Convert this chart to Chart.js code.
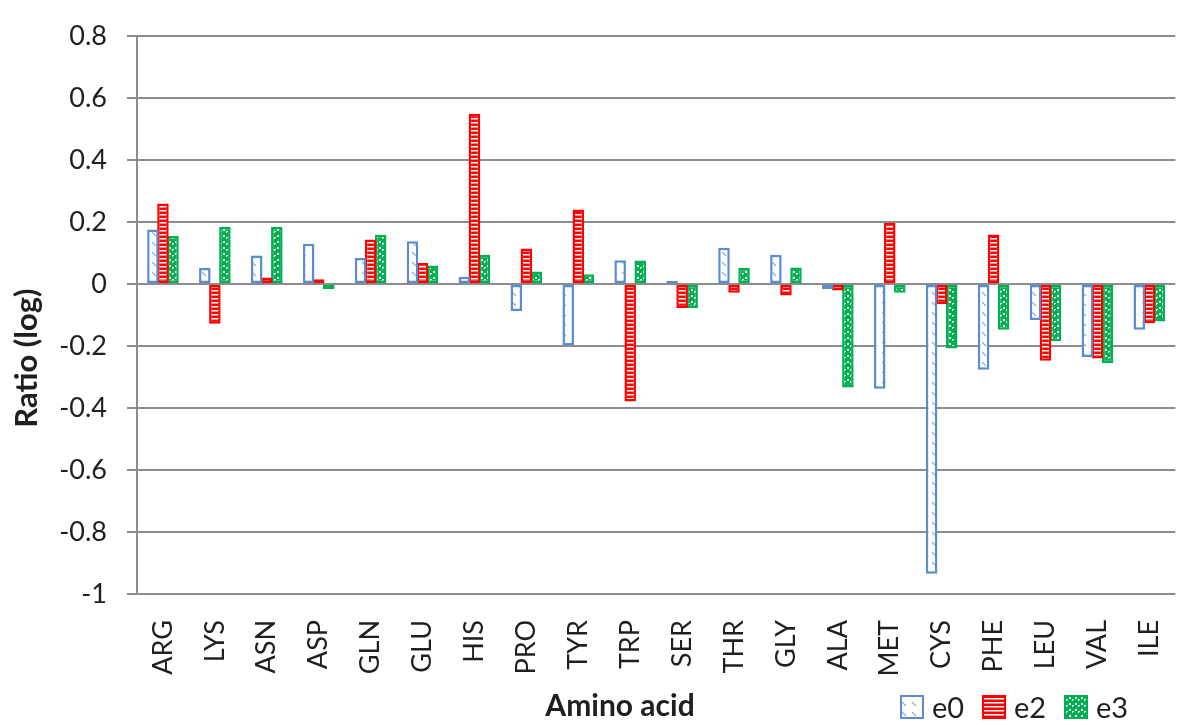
<!DOCTYPE html>
<html>
<head>
<meta charset="utf-8">
<script src="https://cdn.jsdelivr.net/npm/chart.js@4/dist/chart.umd.min.js"></script>
<style>
  html, body { margin: 0; padding: 0; background: #fff; }
  #wrap { width: 1200px; height: 727px; position: relative; }
</style>
</head>
<body>
<div id="wrap"><canvas id="chart" width="1200" height="727"></canvas></div>
<script>
// --- dados ---
const aminoAcids = ['ARG','LYS','ASN','ASP','GLN','GLU','HIS','PRO','TYR','TRP','SER','THR','GLY','ALA','MET','CYS','PHE','LEU','VAL','ILE'];
const e0 = [0.176, 0.052, 0.092, 0.13, 0.084, 0.138, 0.024, -0.087, -0.198, 0.077, 0.01, 0.117, 0.095, -0.016, -0.338, -0.935, -0.276, -0.116, -0.235, -0.147];
const e2 = [0.26, -0.128, 0.021, 0.016, 0.144, 0.068, 0.55, 0.115, 0.241, -0.379, -0.077, -0.028, -0.037, -0.021, 0.197, -0.065, 0.16, -0.247, -0.24, -0.126];
const e3 = [0.155, 0.184, 0.184, -0.016, 0.159, 0.06, 0.095, 0.041, 0.032, 0.076, -0.077, 0.052, 0.054, -0.334, -0.028, -0.208, -0.147, -0.184, -0.255, -0.121];
const seriesNames = ['e0', 'e2', 'e3'];
const yMin = -1, yMax = 0.8, yStep = 0.2;

const FONT = "Lato, 'Open Sans', 'Noto Sans', sans-serif";
const GRID = '#8c8c8c';
const TEXT = '#1f1f1f';

// texturas das barras (padrão do Excel)
const makePattern = (w, h, draw) => {
    const c = document.createElement('canvas');
    c.width = w; c.height = h;
    const g = c.getContext('2d');
    draw(g);
    return g.createPattern(c, 'repeat');
};

const patE0 = makePattern(10, 10, g => {
    g.fillStyle = '#fff'; g.fillRect(0, 0, 10, 10);
    g.strokeStyle = '#8fb0dc'; g.lineWidth = 1.2;
    g.beginPath(); g.moveTo(2, 2); g.lineTo(6, 6); g.stroke();
});
const patE2 = makePattern(4, 4, g => {
    g.fillStyle = '#ff0000'; g.fillRect(0, 0, 4, 4);
    g.fillStyle = '#fff'; g.fillRect(0, 2, 4, 1.5);
});
const patE3 = makePattern(6, 6, g => {
    g.fillStyle = '#00b050'; g.fillRect(0, 0, 6, 6);
    g.fillStyle = '#fff';
    g.fillRect(1, 1, 2, 2);
    g.fillRect(4, 3, 2, 1);
    g.fillRect(4, 4, 1, 1);
});

const styles = [
    { bg: patE0, border: '#5b8bd0', bw: 2.5 },
    { bg: patE2, border: '#ff0000', bw: 2.5 },
    { bg: patE3, border: '#00b050', bw: 2.5 }
];

// títulos e legenda desenhados à mão
const extras = {
    id: 'extras',
    afterDraw: (chart) => {
        const ctx = chart.ctx;
        ctx.save();
        ctx.fillStyle = TEXT;

        // título eixo Y
        ctx.font = `bold 31px ${FONT}`;
        ctx.textAlign = 'center';
        ctx.textBaseline = 'middle';
        ctx.translate(27, 358);
        ctx.rotate(-Math.PI / 2);
        ctx.fillText('Ratio (log)', 0, 0);
        ctx.setTransform(1, 0, 0, 1, 0, 0);

        // título eixo X
        ctx.font = `bold 30px ${FONT}`;
        ctx.textAlign = 'center';
        ctx.textBaseline = 'alphabetic';
        ctx.fillText('Amino acid', 620, 716);

        // legenda
        const xs = [900, 982, 1064];
        ctx.font = `29px ${FONT}`;
        ctx.textAlign = 'left';
        seriesNames.forEach((n, i) => {
            const s = styles[i];
            ctx.fillStyle = s.bg;
            ctx.fillRect(xs[i], 695, 24, 24);
            ctx.strokeStyle = s.border;
            ctx.lineWidth = 2;
            ctx.strokeRect(xs[i] + 1, 696, 22, 22);
            ctx.fillStyle = TEXT;
            ctx.fillText(n, xs[i] + 32, 718);
        });
        ctx.restore();
    }
};

const datasets = [e0, e2, e3].map((vals, i) => ({
    label: seriesNames[i],
    data: vals,
    backgroundColor: styles[i].bg,
    borderColor: styles[i].border,
    borderWidth: styles[i].bw,
    borderSkipped: false,
    categoryPercentage: 0.58,
    barPercentage: 1.15
}));

new Chart(document.getElementById('chart').getContext('2d'), {
    type: 'bar',
    data: { labels: aminoAcids, datasets },
    options: {
        responsive: false,
        animation: false,
        events: [],
        layout: { padding: { top: 20, right: 10, bottom: 0, left: 0 } },
        plugins: { legend: { display: false }, tooltip: { enabled: false } },
        scales: {
            x: {
                grid: { display: false },
                border: { display: false },
                ticks: {
                    color: TEXT,
                    font: { family: FONT, size: 27 },
                    minRotation: 90, maxRotation: 90,
                    padding: 18,
                    autoSkip: false
                },
                afterFit: s => { s.height = 133; }
            },
            y: {
                min: yMin, max: yMax,
                grid: { color: GRID, lineWidth: 2, tickLength: 10, tickColor: GRID },
                border: { display: true, color: GRID, width: 2 },
                ticks: {
                    stepSize: yStep,
                    color: TEXT,
                    font: { family: FONT, size: 27 },
                    padding: 20,
                    callback: v => String(Math.round(v * 10) / 10)
                },
                afterFit: s => { s.width = 137; }
            }
        }
    },
    plugins: [extras]
});
</script>
</body>
</html>
